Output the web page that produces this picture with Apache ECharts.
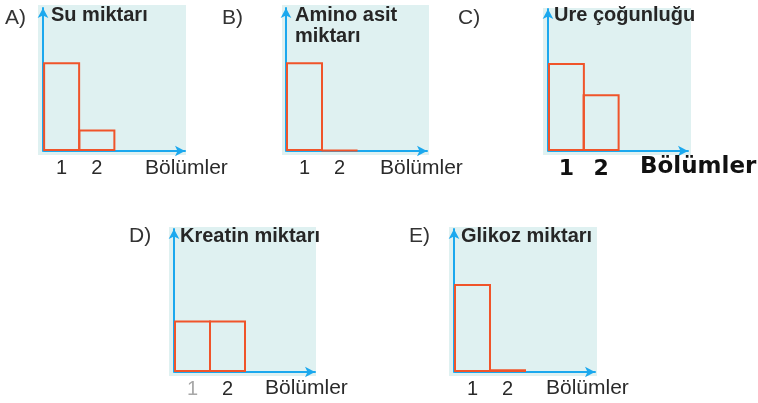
<!DOCTYPE html>
<html>
<head>
<meta charset="utf-8">
<script src="https://cdn.jsdelivr.net/npm/echarts@6/dist/echarts.min.js"></script>
<style>html,body{margin:0;padding:0;background:#fff}#c{width:758px;height:403px}</style>
</head>
<body>
<div id="c"></div>
<script>
// ---- data ----
const categories = ['1', '2'];
const suMiktari = [62, 15];        // A
const aminoAsitMiktari = [62, 0.6]; // B
const ureYogunlugu = [62, 40];     // C
const kreatinMiktari = [36, 36];   // D
const glikozMiktari = [61.5, 2];   // E
const panelLetters = ['A)', 'B)', 'C)', 'D)', 'E)'];
const panelTitles = ['Su miktarı', 'Amino asit\nmiktarı', 'Ure çoğunluğu', 'Kreatin miktarı', 'Glikoz miktarı'];
const xName = 'Bölümler';

// ---- layout (positions/styles only) ----
// grid: [yAxisX, top, axisLength, height]
const panels = [
  {data: suMiktari,       bg: [38, 5, 148, 150],   grid: [43, 8, 142, 143],   letter: [5, 8],   title: [51, 5],   xname: [145, 158], bold: false},
  {data: aminoAsitMiktari,bg: [282, 5, 147, 150],  grid: [286, 8, 141, 143],  letter: [222, 8], title: [295, 5],  xname: [380, 158], bold: false},
  {data: ureYogunlugu,    bg: [543, 8, 148, 147],  grid: [548, 9, 140, 142],  letter: [458, 8], title: [554, 5],  xname: [640, 156], bold: true},
  {data: kreatinMiktari,  bg: [169, 227, 147, 149],grid: [174, 229, 141, 143],letter: [129, 226], title: [180, 226], xname: [265, 378], bold: false, grey1: true},
  {data: glikozMiktari,   bg: [449, 227, 148, 149],grid: [454, 229, 141, 143],letter: [409, 226], title: [461, 226], xname: [546, 378], bold: false}
];

const AXIS = '#1ba8ee';
const BAR = '#f0542a';
const BG = '#dff1f1';
const TXT = '#2a2a2a';
const GAP = 1; // distance between y axis line and grid start

const option = {
  animation: false,
  backgroundColor: '#ffffff',
  grid: [], xAxis: [], yAxis: [], series: [], title: [], graphic: []
};

panels.forEach((p, i) => {
  option.graphic.push({type: 'rect', z: -10, silent: true,
    shape: {x: p.bg[0], y: p.bg[1], width: p.bg[2], height: p.bg[3]},
    style: {fill: BG}});
  option.grid.push({left: p.grid[0] + GAP, top: p.grid[1], width: p.grid[2] - GAP, height: p.grid[3], containLabel: false});
  option.xAxis.push({
    type: 'category', gridIndex: i, data: categories, max: 3, boundaryGap: true,
    axisLine: {show: true, lineStyle: {color: AXIS, width: 2}, symbol: ['none', 'arrow'], symbolSize: [8, 10]},
    axisTick: {show: false},
    axisLabel: {
      margin: 7, fontSize: p.bold ? 22 : 20,
      fontFamily: p.bold ? 'DejaVu Sans' : 'Liberation Sans',
      fontWeight: p.bold ? 'bold' : 'normal',
      color: p.grey1 ? (v, idx) => (idx === 0 ? '#a8a8a8' : TXT) : (p.bold ? '#111' : TXT)
    },
    splitLine: {show: false}
  });
  option.yAxis.push({
    type: 'value', gridIndex: i, min: 0, max: 100, offset: GAP,
    axisLine: {show: true, onZero: false, lineStyle: {color: AXIS, width: 2}, symbol: ['none', 'arrow'], symbolSize: [8, 10]},
    axisTick: {show: false}, axisLabel: {show: false}, splitLine: {show: false}
  });
  option.series.push({
    type: 'bar', xAxisIndex: i, yAxisIndex: i, data: p.data, barWidth: 37,
    itemStyle: {color: 'rgba(0,0,0,0)', borderColor: BAR, borderWidth: 2}
  });
  option.title.push({text: panelLetters[i], left: p.letter[0], top: p.letter[1], padding: 0,
    textStyle: {fontFamily: 'Liberation Sans', fontSize: 21, fontWeight: 'normal', color: '#333'}});
  option.title.push({text: panelTitles[i], left: p.title[0], top: p.title[1], padding: 0,
    textStyle: {fontFamily: 'Liberation Sans', fontSize: 20, fontWeight: 'bold', color: '#262626', lineHeight: 21}});
  option.title.push({text: xName, left: p.xname[0], top: p.xname[1], padding: 0,
    textStyle: p.bold
      ? {fontFamily: 'DejaVu Sans', fontSize: 23, fontWeight: 'bold', color: '#111'}
      : {fontFamily: 'Liberation Sans', fontSize: 21, fontWeight: 'normal', color: TXT}});
});

const chart = echarts.init(document.getElementById('c'), null, {renderer: 'canvas'});
chart.setOption(option);
</script>
</body>
</html>
